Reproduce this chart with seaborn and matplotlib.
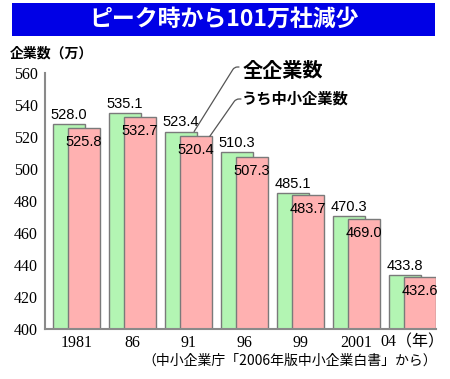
import pandas as pd
import seaborn as sns
import matplotlib.pyplot as plt
from matplotlib.patches import Rectangle

# data (万社)
years = ["1981", "86", "91", "96", "99", "2001", "04（年）"]
total = [528.0, 535.1, 523.4, 510.3, 485.1, 470.3, 433.8]
sme = [525.8, 532.7, 520.4, 507.3, 483.7, 469.0, 432.6]

df = pd.DataFrame({"year": years, "total": total, "sme": sme})

GREEN = "#b3f5b3"
PINK = "#ffb1b1"
EDGE = "#7a7a7a"
AXC = "#8a8a8a"
SERIF = ["Liberation Serif", "Noto Sans CJK JP"]
CJK = ["Noto Sans CJK JP", "DejaVu Sans"]
SANS = ["Liberation Sans", "DejaVu Sans"]

sns.set_style("white")
plt.rcParams["font.family"] = CJK
plt.rcParams["text.color"] = "black"
plt.rcParams["xtick.color"] = "black"
plt.rcParams["ytick.color"] = "black"

fig = plt.figure(figsize=(4.5, 3.79), dpi=100)
ax = fig.add_axes([0.1, 0.132, 0.869, 0.6755])

off = 0.134
w = 0.57

sns.barplot(data=df, x="year", y="total", color=GREEN, width=w, saturation=1,
            edgecolor=EDGE, linewidth=1, errorbar=None, ax=ax)
green = ax.containers[-1]
for p in green:
    p.set_x(p.get_x() - off)

sns.barplot(data=df, x="year", y="sme", color=PINK, width=w, saturation=1,
            edgecolor=EDGE, linewidth=1, errorbar=None, ax=ax)
pink = ax.containers[-1]
for p in pink:
    p.set_x(p.get_x() + off)

# value labels
ax.bar_label(green, fmt="%.1f", padding=1.5, fontsize=10.5, family=SANS,
             color="black")
for p, v in zip(pink, sme):
    ax.annotate(f"{v:.1f}", (p.get_x() + p.get_width() / 2, v), xytext=(0, -5),
                textcoords="offset points", ha="center", va="top",
                fontsize=10.5, family=SANS, color="black")

ax.set_xlim(-0.5625, 6.42)
ax.set_ylim(400, 560)
ax.set_yticks(range(400, 561, 20))
ax.set_xlabel("")
ax.set_ylabel("")
ax.tick_params(axis="y", direction="in", length=6.5, width=1.2, color=AXC,
               labelcolor="black", pad=5, labelsize=11.5)
ax.tick_params(axis="x", length=0, pad=4, labelsize=11.5, labelcolor="black")
for t in ax.get_xticklabels() + ax.get_yticklabels():
    t.set_family(SERIF)

for s in ["top", "right"]:
    ax.spines[s].set_visible(False)
for s in ["left", "bottom"]:
    ax.spines[s].set_color(AXC)
    ax.spines[s].set_linewidth(1.5)

# title banner
fig.add_artist(Rectangle((0.027, 0.905), 0.94, 0.087, transform=fig.transFigure,
                         facecolor="#0000e6", edgecolor="none"))
fig.text(0.497, 0.949, "ピーク時から101万社減少", color="white", fontsize=16.5,
         weight="bold", ha="center", va="center")

fig.text(0.022, 0.86, "企業数（万）", fontsize=10, weight="bold", va="center")

# series labels with leader lines
fig.text(0.538, 0.815, "全企業数", fontsize=14.5, weight="bold", va="center")
fig.text(0.538, 0.741, "うち中小企業数", fontsize=11, weight="bold", va="center")
ax.annotate("", xy=(2.1, 523.4), xytext=(239 / 450, 1 - 67 / 379),
            textcoords="figure fraction",
            arrowprops=dict(arrowstyle="-", color="#555555", lw=0.9,
                            shrinkA=0, shrinkB=0,
                            connectionstyle="angle,angleA=0,angleB=58,rad=3"))
ax.annotate("", xy=(2.38, 520.4), xytext=(241 / 450, 1 - 99 / 379),
            textcoords="figure fraction",
            arrowprops=dict(arrowstyle="-", color="#555555", lw=0.9,
                            shrinkA=0, shrinkB=0,
                            connectionstyle="angle,angleA=0,angleB=55,rad=3"))

fig.text(0.971, 0.0475, "（中小企業庁「2006年版中小企業白書」から）",
         fontsize=10, ha="right", va="center")

fig.savefig("out.png", dpi=100)
